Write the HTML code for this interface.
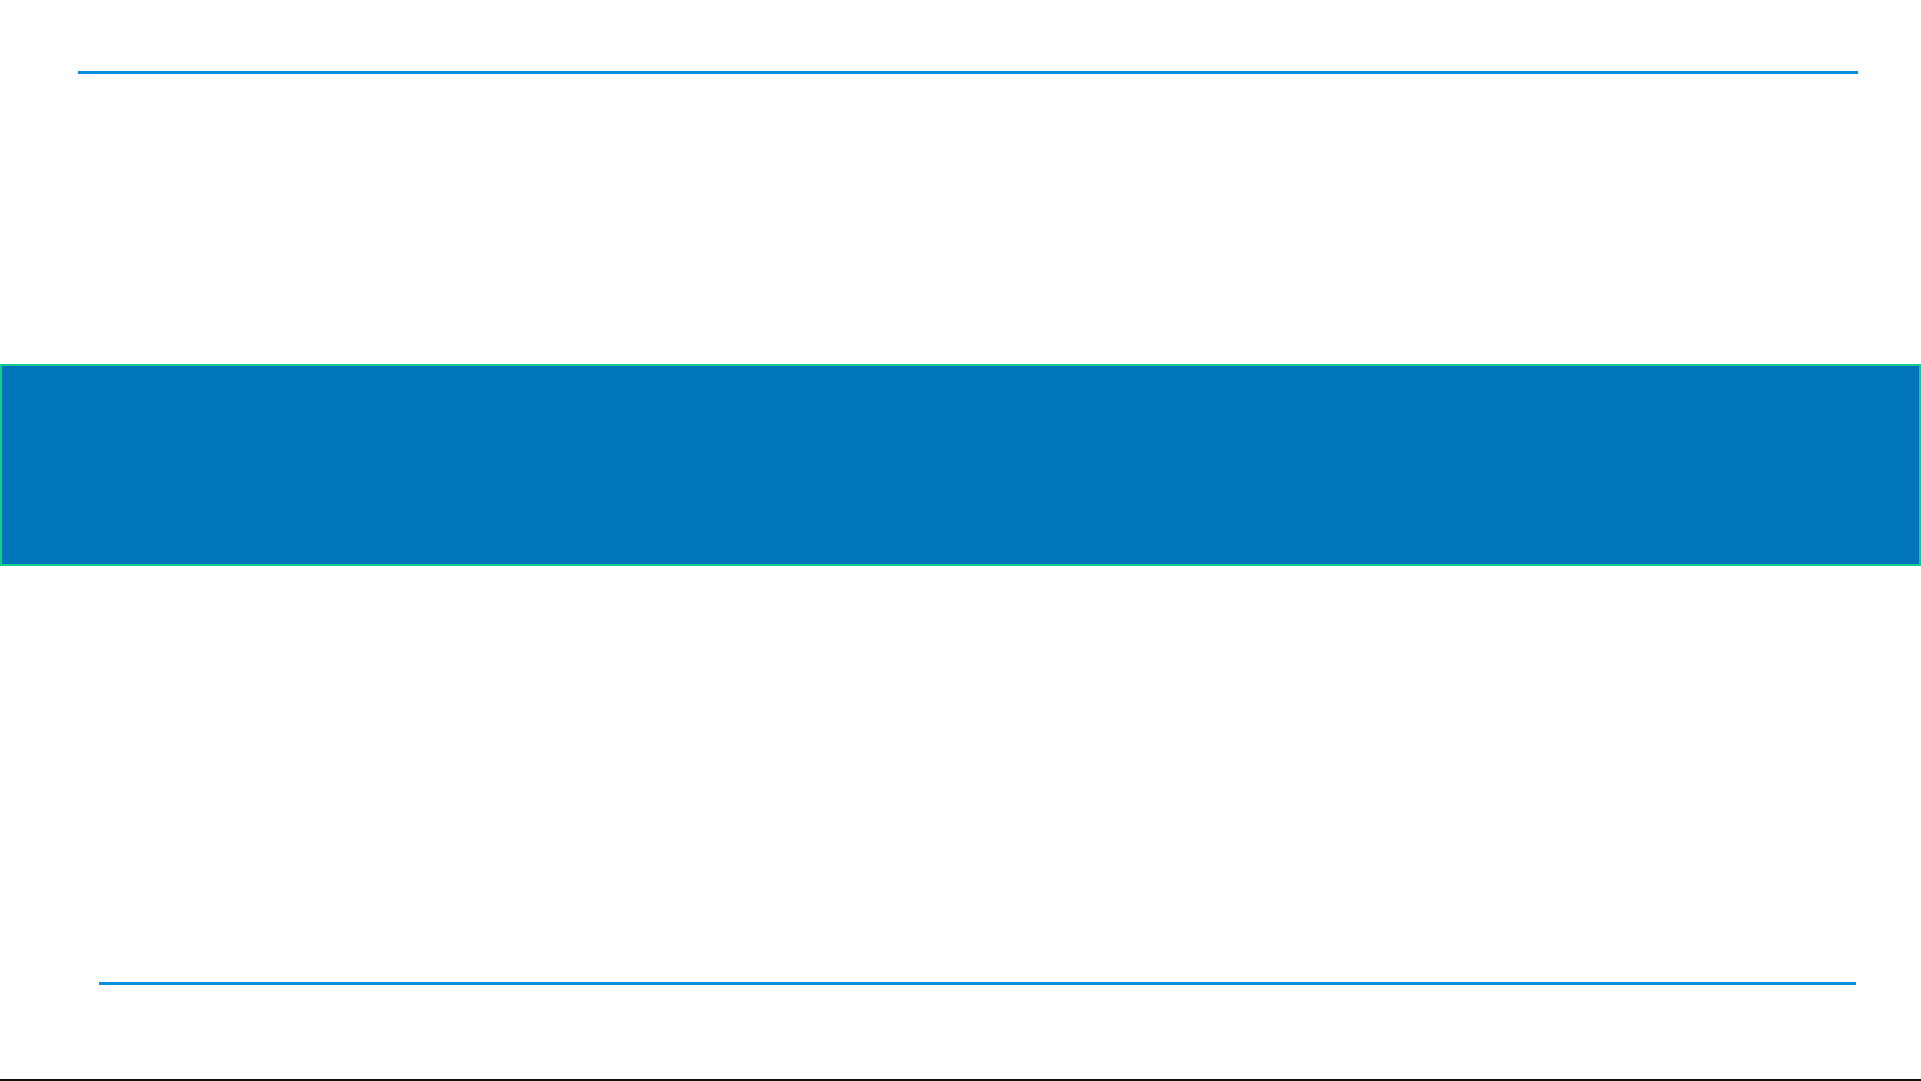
<!DOCTYPE html>
<html><head><meta charset="utf-8"><style>
html,body{margin:0;padding:0;background:#fff;width:1921px;height:1081px;overflow:hidden;position:relative}
div{position:absolute}
</style></head><body>
<div style="left:78px;top:71px;width:1780px;height:3px;background:#0a8fdc"></div>
<div style="left:0;top:364px;width:1921px;height:202px;box-sizing:border-box;background:#0075ba;border:2px solid #10cc90"></div>
<div style="left:99px;top:982px;width:1757px;height:3px;background:#0a8fdc"></div>
<div style="left:0;top:1079px;width:1921px;height:2px;background:#111"></div>
</body></html>
